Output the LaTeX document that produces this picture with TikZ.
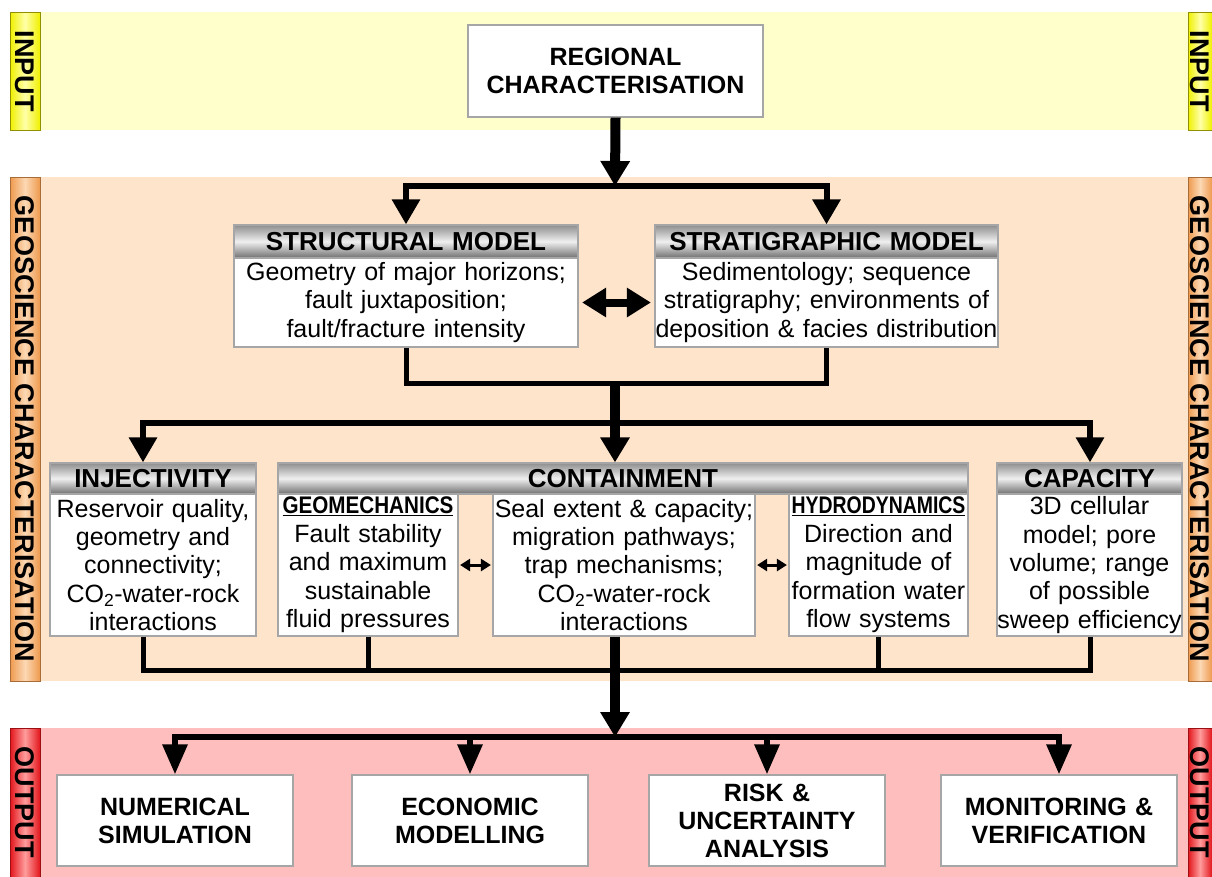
\documentclass[tikz,border=0pt]{standalone}
\usepackage{graphicx}
\usepackage{fontspec}
\setmainfont{Liberation Sans}
\usetikzlibrary{arrows.meta}

\definecolor{inband}{HTML}{FFFFCC}
\definecolor{inbar}{HTML}{F0F000}
\definecolor{inbarlt}{HTML}{FFFFA8}
\definecolor{geoband}{HTML}{FDE4CA}
\definecolor{geobar}{HTML}{EE9A4E}
\definecolor{geobarlt}{HTML}{FCD8B4}
\definecolor{outband}{HTML}{FFBEBE}
\definecolor{outbar}{HTML}{E2161C}
\definecolor{outbarlt}{HTML}{FF9C9C}
\definecolor{hdtop}{HTML}{8E8E8E}
\definecolor{hdbot}{HTML}{6F6F6F}
\definecolor{boxline}{HTML}{A6A6A6}

\tikzset{
  plainbox/.style={draw=boxline, line width=1.2pt, fill=white, align=center, inner sep=0pt,
    font=\fontsize{25}{28}\selectfont\bfseries},
  headbox/.style={draw=boxline, line width=1.2pt, top color=hdtop, bottom color=hdbot,
    middle color=white!94!black, align=center, inner sep=0pt, font=\fontsize{26}{28}\selectfont\bfseries},
  bodybox/.style={draw=boxline, line width=1.2pt, fill=white, align=center, inner sep=0pt,
    font=\fontsize{25}{28.4}\selectfont},
  sized/.style 2 args={minimum width=#1, text width=#1, minimum height=#2},
  barlabel/.style={rotate=-90, inner sep=0pt, font=\fontsize{27}{30}\selectfont\bfseries},
  link/.style={line width=5pt},
  spine/.style={line width=10pt, -{Triangle[width=28pt,length=25pt]}},
  fork/.style={line width=6pt, {Triangle[width=27pt,length=25pt]}-{Triangle[width=27pt,length=25pt]}},
  drop/.style={line width=6pt, -{Triangle[width=24pt,length=30pt]}},
  drops/.style={line width=6pt, {Triangle[width=24pt,length=30pt]}-{Triangle[width=24pt,length=30pt]}},
  twoway/.style={line width=8pt, {Triangle[width=28pt,length=24pt]}-{Triangle[width=28pt,length=24pt]}},
  smalltwo/.style={line width=3pt, {Triangle[width=12pt,length=10pt]}-{Triangle[width=12pt,length=10pt]}}
}

\newcommand{\subhead}[2]{\underline{\scalebox{#1}[1]{\fontsize{24}{28}\selectfont\bfseries #2}}}

\begin{document}
\begin{tikzpicture}[x=1pt,y=-1pt]
  \useasboundingbox (0,0) rectangle (1212,876);
  \clip (0,0) rectangle (1212,876);

  %% bands
  \fill[inband] (40,12) rectangle (1188,130);
  \fill[geoband] (40,177) rectangle (1188,681);
  \fill[outband] (40,728) rectangle (1188,880);
  \foreach \bx/\bw in {10/30,1188/24} {
    \shade[left color=inbar, right color=inbar, middle color=inbarlt, draw=inbar!60!black, line width=0.6pt]
      (\bx,12) rectangle (\bx+\bw,130);
    \shade[left color=geobar, right color=geobar, middle color=geobarlt, draw=geobar!70!black, line width=0.6pt]
      (\bx,177) rectangle (\bx+\bw,681);
    \shade[left color=outbar, right color=outbar, middle color=outbarlt, draw=outbar!70!black, line width=0.6pt]
      (\bx,728) rectangle (\bx+\bw,880);
  }
  \node[barlabel] (inlabl) at (25,71) {INPUT};
  \node[barlabel] (geolabl) at (25,429) {GEOSCIENCE CHARACTERISATION};
  \node[barlabel] (outlabl) at (25,802) {OUTPUT};
  \node[barlabel] (inlabr) at (1200,71) {INPUT};
  \node[barlabel] (geolabr) at (1200,429) {GEOSCIENCE CHARACTERISATION};
  \node[barlabel] (outlabr) at (1200,802) {OUTPUT};

  %% input
  \node[plainbox, sized={295pt}{92pt}] (regional) at (615.5,71) {REGIONAL\\CHARACTERISATION};

  %% models
  \node[bodybox, sized={344pt}{89pt}] (structbody) at (406,302.5)
    {Geometry of major horizons;\\fault juxtaposition;\\fault/fracture intensity};
  \node[headbox, sized={344pt}{33pt}] (structhead) at (406,241.5) {STRUCTURAL MODEL};
  \node[bodybox, sized={343pt}{89pt}] (stratbody) at (826.5,302.5)
    {Sedimentology; sequence\\stratigraphy; environments of\\deposition \& facies distribution};
  \node[headbox, sized={343pt}{33pt}] (strathead) at (826.5,241.5) {STRATIGRAPHIC MODEL};

  %% injectivity, containment, capacity
  \node[bodybox, sized={206pt}{142pt}] (injbody) at (153,565)
    {Reservoir quality,\\geometry and\\connectivity;\\CO\textsubscript{2}-water-rock\\interactions};
  \node[headbox, sized={206pt}{31pt}] (injhead) at (153,478.5) {INJECTIVITY};
  \node[headbox, sized={690pt}{31pt}] (conthead) at (623,478.5) {CONTAINMENT};
  \node[bodybox, sized={180pt}{142pt}] (geobox) at (368,565)
    {\subhead{0.86}{GEOMECHANICS}\\Fault stability\\and maximum\\sustainable\\fluid pressures};
  \node[bodybox, sized={262pt}{142pt}] (centbox) at (624,565)
    {Seal extent \& capacity;\\migration pathways;\\trap mechanisms;\\CO\textsubscript{2}-water-rock\\interactions};
  \node[bodybox, sized={179pt}{142pt}] (hydrobox) at (878.5,565)
    {\subhead{0.81}{HYDRODYNAMICS}\\Direction and\\magnitude of\\formation water\\flow systems};
  \node[bodybox, sized={185pt}{142pt}] (capbody) at (1089.5,565)
    {3D cellular\\model; pore\\volume; range\\of possible\\sweep efficiency};
  \node[headbox, sized={185pt}{31pt}] (caphead) at (1089.5,478.5) {CAPACITY};

  %% output
  \node[plainbox, sized={236pt}{91pt}] (numbox) at (175,820.5) {NUMERICAL\\SIMULATION};
  \node[plainbox, sized={236pt}{91pt}] (econbox) at (470,820.5) {ECONOMIC\\MODELLING};
  \node[plainbox, sized={236pt}{91pt}] (riskbox) at (767,820.5) {RISK \&\\UNCERTAINTY\\ANALYSIS};
  \node[plainbox, sized={236pt}{91pt}] (monbox) at (1059,820.5) {MONITORING \&\\VERIFICATION};

  %% junctions
  \coordinate (topfork) at (615,186);
  \coordinate (midjoin) at (615,383);
  \coordinate (distl) at (143,423);
  \coordinate (distr) at (1090,423);
  \coordinate (botl) at (143,670);
  \coordinate (botr) at (1090,670);
  \coordinate (outjoin) at (615,737);

  %% connectors
  \draw[spine] (regional.south) -- (topfork);
  \draw[fork] (structhead.north) |- (topfork) -| (strathead.north);
  \draw[twoway, shorten <=3.5pt, shorten >=3.5pt] (structbody.east) -- (stratbody.west);
  \draw[link] (structbody.south) |- (midjoin) -| (stratbody.south);
  \draw[fork] (distl |- injhead.north) -- (distl) -- (distr) -- (distr |- caphead.north);
  \draw[spine] (midjoin) -- (midjoin |- conthead.north);
  \draw[smalltwo, shorten <=1.5pt, shorten >=1.5pt] (geobox.east) -- (centbox.west);
  \draw[smalltwo, shorten <=1.5pt, shorten >=1.5pt] (centbox.east) -- (hydrobox.west);
  \draw[link] (botl |- injbody.south) -- (botl) -- (botr) -- (botr |- capbody.south);
  \draw[link] (geobox.south) -- (geobox.south |- botl);
  \draw[link] (hydrobox.south) -- (hydrobox.south |- botl);
  \draw[spine] (midjoin |- centbox.south) -- (outjoin);
  \draw[drops] (numbox.north) |- (outjoin) -| (monbox.north);
  \draw[drop] (econbox.north |- outjoin) -- (econbox.north);
  \draw[drop] (riskbox.north |- outjoin) -- (riskbox.north);
\end{tikzpicture}
\end{document}
